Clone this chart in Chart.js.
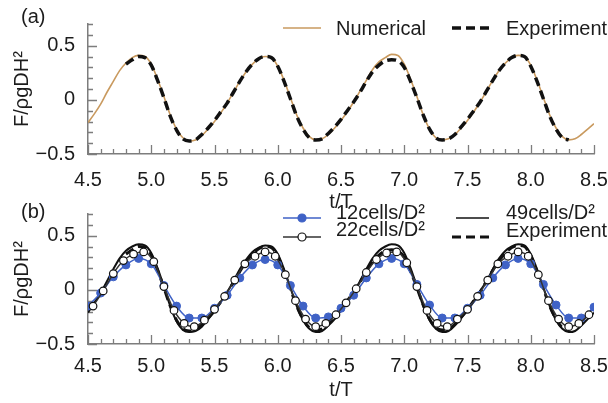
<!DOCTYPE html>
<html>
<head>
<meta charset="utf-8">
<script src="https://cdn.jsdelivr.net/npm/chart.js@4.4.0/dist/chart.umd.min.js"></script>
<style>
  html, body { margin: 0; padding: 0; background: #fff; }
  #wrap { position: relative; width: 608px; height: 403px; overflow: hidden; background: #fff; }
  canvas { position: absolute; left: 0; }
  #chart-a { top: 0; }
  #chart-b { top: 200px; }
</style>
</head>
<body>
<div id="wrap">
  <canvas id="chart-a" width="608" height="215"></canvas>
  <canvas id="chart-b" width="608" height="203"></canvas>
</div>
<script>
// Wave force on the cylinder, two panels sharing the same t/T axis

// time samples (t/T)
const tNum = [
  4.50, 4.55, 4.60, 4.65, 4.70, 4.75, 4.80, 4.85, 4.90, 4.95,
  5.00, 5.05, 5.10, 5.15, 5.20, 5.25, 5.30, 5.35, 5.40, 5.45,
  5.50, 5.55, 5.60, 5.65, 5.70, 5.75, 5.80, 5.85, 5.90, 5.95,
  6.00, 6.05, 6.10, 6.15, 6.20, 6.25, 6.30, 6.35, 6.40, 6.45,
  6.50, 6.55, 6.60, 6.65, 6.70, 6.75, 6.80, 6.85, 6.90, 6.95,
  7.00, 7.05, 7.10, 7.15, 7.20, 7.25, 7.30, 7.35, 7.40, 7.45,
  7.50, 7.55, 7.60, 7.65, 7.70, 7.75, 7.80, 7.85, 7.90, 7.95,
  8.00, 8.05, 8.10, 8.15, 8.20, 8.25, 8.30, 8.35, 8.40, 8.45,
  8.50,
];
const t12 = [
  4.5, 4.6, 4.7, 4.8, 4.9, 5.0, 5.1, 5.2, 5.3, 5.4,
  5.5, 5.6, 5.7, 5.8, 5.9, 6.0, 6.1, 6.2, 6.3, 6.4,
  6.5, 6.6, 6.7, 6.8, 6.9, 7.0, 7.1, 7.2, 7.3, 7.4,
  7.5, 7.6, 7.7, 7.8, 7.9, 8.0, 8.1, 8.2, 8.3, 8.4,
  8.5,
];
const t22 = [
  4.54, 4.62, 4.70, 4.78, 4.86, 4.94, 5.02, 5.10, 5.18, 5.26, 5.34, 5.42, 5.50,
  5.58, 5.66, 5.74, 5.82, 5.90, 5.98, 6.06, 6.14, 6.22, 6.30, 6.38, 6.46,
  6.54, 6.62, 6.70, 6.78, 6.86, 6.94, 7.02, 7.10, 7.18, 7.26, 7.34, 7.42, 7.50,
  7.58, 7.66, 7.74, 7.82, 7.90, 7.98, 8.06, 8.14, 8.22, 8.30, 8.38, 8.46,
];

// F/(rho g D H^2) values
const numerical = [
  -0.21, -0.13, -0.04, 0.07, 0.17, 0.27, 0.34, 0.39, 0.41, 0.40,
  0.33, 0.19, 0.03, -0.14, -0.27, -0.35, -0.38, -0.37, -0.33, -0.27,
  -0.20, -0.12, -0.03, 0.07, 0.17, 0.26, 0.33, 0.38, 0.40, 0.39,
  0.31, 0.18, 0.02, -0.14, -0.26, -0.34, -0.37, -0.36, -0.32, -0.26,
  -0.19, -0.11, -0.02, 0.08, 0.18, 0.28, 0.35, 0.39, 0.42, 0.41,
  0.33, 0.19, 0.03, -0.14, -0.27, -0.35, -0.37, -0.36, -0.32, -0.26,
  -0.19, -0.11, -0.02, 0.08, 0.18, 0.27, 0.34, 0.39, 0.41, 0.40,
  0.32, 0.18, 0.02, -0.14, -0.26, -0.34, -0.37, -0.36, -0.32, -0.27,
  -0.22,
];
const experiment = [
  null, null, null, null, null, null, 0.33, 0.37, 0.40, 0.39,
  0.32, 0.18, 0.02, -0.15, -0.28, -0.36, -0.38, -0.37, -0.32, -0.26,
  -0.19, -0.11, -0.03, 0.07, 0.17, 0.26, 0.33, 0.38, 0.40, 0.39,
  0.31, 0.17, 0.01, -0.15, -0.27, -0.35, -0.37, -0.36, -0.31, -0.25,
  -0.18, -0.10, -0.02, 0.07, 0.17, 0.26, 0.32, 0.36, 0.37, 0.36,
  0.30, 0.17, 0.02, -0.14, -0.27, -0.35, -0.37, -0.36, -0.32, -0.25,
  -0.18, -0.10, -0.02, 0.08, 0.18, 0.27, 0.34, 0.39, 0.41, 0.40,
  0.31, 0.17, 0.01, -0.15, -0.27, -0.35, -0.37, null, null, null,
  null,
];
const cells49 = [
  -0.21, -0.12, -0.03, 0.08, 0.19, 0.29, 0.36, 0.40, 0.42, 0.41,
  0.34, 0.20, 0.03, -0.15, -0.29, -0.37, -0.39, -0.38, -0.34, -0.27,
  -0.20, -0.11, -0.02, 0.08, 0.19, 0.28, 0.35, 0.39, 0.41, 0.40,
  0.33, 0.19, 0.02, -0.15, -0.28, -0.36, -0.39, -0.38, -0.33, -0.27,
  -0.19, -0.11, -0.02, 0.08, 0.19, 0.29, 0.36, 0.40, 0.42, 0.41,
  0.34, 0.20, 0.03, -0.15, -0.28, -0.36, -0.39, -0.38, -0.33, -0.26,
  -0.19, -0.10, -0.01, 0.08, 0.19, 0.29, 0.36, 0.40, 0.42, 0.41,
  0.33, 0.19, 0.02, -0.15, -0.28, -0.36, -0.39, -0.38, -0.33, -0.27,
  -0.21,
];
const cells12 = [
  -0.15, -0.03, 0.12, 0.23, 0.29, 0.24, 0.04, -0.15, -0.26, -0.26,
  -0.17, -0.05, 0.11, 0.23, 0.28, 0.23, 0.04, -0.15, -0.26, -0.25,
  -0.17, -0.05, 0.11, 0.24, 0.29, 0.24, 0.05, -0.14, -0.26, -0.26,
  -0.17, -0.05, 0.11, 0.23, 0.29, 0.24, 0.05, -0.14, -0.26, -0.26,
  -0.16,
];
const cells22 = [
  -0.15, -0.01, 0.15, 0.27, 0.33, 0.35, 0.26, 0.03, -0.19, -0.31, -0.34, -0.28, -0.18,
  -0.06, 0.09, 0.24, 0.31, 0.35, 0.31, 0.14, -0.10, -0.27, -0.34, -0.31, -0.23,
  -0.12, 0.01, 0.16, 0.28, 0.34, 0.35, 0.25, 0.03, -0.19, -0.31, -0.34, -0.27, -0.18,
  -0.06, 0.09, 0.24, 0.31, 0.35, 0.31, 0.14, -0.10, -0.27, -0.34, -0.31, -0.23,
];

// tick labels
const xTickValues = [4.5, 5.0, 5.5, 6.0, 6.5, 7.0, 7.5, 8.0, 8.5];
const yTickValues = [-0.5, 0, 0.5];

const FONT_FAMILY = "'Liberation Sans', Arial, Helvetica, sans-serif";
const TEXT_COLOR = "#1c1c1c";
const AXIS_COLOR = "#7d7d7d";
const ORANGE = "#c99a5f";
const BLUE = "#3f62c6";

function pairs(ts, vs) {
  return ts.map((t, i) => ({ x: t, y: vs[i] }));
}

// small tick marks drawn inside the plot, like the original figure
const innerTicks = {
  id: "innerTicks",
  beforeDatasetsDraw(chart) {
    const { ctx } = chart;
    const x = chart.scales.x;
    const y = chart.scales.y;
    ctx.save();
    ctx.strokeStyle = AXIS_COLOR;
    ctx.lineWidth = 1.3;
    ctx.beginPath();
    for (let i = 0; i <= 40; i++) {
      const px = Math.round(x.getPixelForValue(4.5 + i * 0.1)) + 0.5;
      const len = i % 5 === 0 ? 9 : 5;
      ctx.moveTo(px, y.bottom);
      ctx.lineTo(px, y.bottom - len);
    }
    for (let i = 0; i <= 12; i++) {
      const py = Math.round(y.getPixelForValue(-0.5 + i * 0.1)) + 0.5;
      const len = i % 5 === 0 ? 9 : 5;
      ctx.moveTo(x.left, py);
      ctx.lineTo(x.left + len, py);
    }
    ctx.stroke();
    ctx.restore();
  },
};

// panel letter and legend keys (kept out of chart options so Chart.js does not resolve them)
function drawKeys(ctx, panel) {
  ctx.save();
  ctx.font = "20px " + FONT_FAMILY;
  ctx.fillStyle = TEXT_COLOR;
  ctx.textBaseline = "middle";
  ctx.fillText(panel.letter, 21, panel.letterY);

  panel.legend.forEach((item) => {
    ctx.save();
    ctx.strokeStyle = item.color;
    ctx.lineWidth = item.width;
    ctx.setLineDash(item.dash || []);
    ctx.beginPath();
    ctx.moveTo(item.x0, item.y);
    ctx.lineTo(item.x1, item.y);
    ctx.stroke();
    ctx.setLineDash([]);
    if (item.dot) {
      ctx.beginPath();
      ctx.arc((item.x0 + item.x1) / 2, item.y, 4, 0, Math.PI * 2);
      ctx.fillStyle = item.dot;
      ctx.fill();
      ctx.lineWidth = 1.2;
      ctx.strokeStyle = item.edge;
      ctx.stroke();
    }
    ctx.restore();
    ctx.fillText(item.text, item.tx, item.ty);
  });
  ctx.restore();
}

function makePanel(canvasId, datasets, panel) {
  const ctx = document.getElementById(canvasId).getContext("2d");
  const keys = {
    id: "keys",
    afterDraw(chart) {
      drawKeys(chart.ctx, panel);
    },
  };
  return new Chart(ctx, {
    type: "line",
    data: { datasets },
    plugins: [innerTicks, keys],
    options: {
      responsive: false,
      animation: false,
      devicePixelRatio: 1,
      layout: { padding: { top: panel.top, right: 14, left: 0, bottom: 0 } },
      plugins: {
        legend: { display: false },
        tooltip: { enabled: false },
      },
      elements: {
        line: { cubicInterpolationMode: "monotone" },
      },
      scales: {
        x: {
          type: "linear",
          min: 4.5,
          max: 8.5,
          grid: { display: false, drawTicks: false },
          border: { display: true, color: AXIS_COLOR, width: 1.5 },
          afterBuildTicks: (scale) => {
            scale.ticks = xTickValues.map((v) => ({ value: v }));
          },
          afterFit: (scale) => {
            scale.height = panel.xHeight;
            scale.paddingLeft = 0;
            scale.paddingRight = 0;
          },
          ticks: {
            padding: panel.xPad,
            maxRotation: 0,
            color: TEXT_COLOR,
            font: { family: FONT_FAMILY, size: 20 },
            callback: (v) => Number(v).toFixed(1),
          },
          title: {
            display: true,
            text: "t/T",
            color: TEXT_COLOR,
            font: { family: FONT_FAMILY, size: 20 },
            padding: { top: 0, bottom: panel.titlePad },
          },
        },
        y: {
          min: -0.5,
          max: 0.7,
          grid: { display: false, drawTicks: false },
          border: { display: true, color: AXIS_COLOR, width: 1.5 },
          afterBuildTicks: (scale) => {
            scale.ticks = yTickValues.map((v) => ({ value: v }));
          },
          afterFit: (scale) => {
            scale.width = 88;
            scale.paddingTop = 0;
            scale.paddingBottom = 0;
          },
          ticks: {
            padding: 13,
            color: TEXT_COLOR,
            font: { family: FONT_FAMILY, size: 20 },
            callback: (v) => (v === 0 ? "0" : v < 0 ? "\u2212" + Math.abs(v).toFixed(1) : v.toFixed(1)),
          },
          title: {
            display: true,
            text: "F/\u03C1gDH\u00B2",
            color: TEXT_COLOR,
            font: { family: FONT_FAMILY, size: 20 },
            padding: { top: 10, bottom: 0 },
          },
        },
      },
    },
  });
}

document.addEventListener("DOMContentLoaded", () => {
  // (a) numerical vs experiment
  makePanel(
    "chart-a",
    [
      {
        label: "Experiment",
        data: pairs(tNum, experiment),
        borderColor: "#111",
        borderWidth: 3.5,
        borderDash: [9, 5],
        pointRadius: 0,
        spanGaps: false,
      },
      {
        label: "Numerical",
        data: pairs(tNum, numerical),
        borderColor: ORANGE,
        borderWidth: 1.6,
        pointRadius: 0,
      },
    ],
    {
      letter: "(a)",
      letterY: 17,
      top: 24,
      xHeight: 61,
      xPad: 14,
      titlePad: 1,
      legend: [
        { text: "Numerical", x0: 283, x1: 321, y: 28, tx: 336, ty: 29, color: ORANGE, width: 1.6 },
        { text: "Experiment", x0: 452, x1: 494, y: 28, tx: 506, ty: 29, color: "#111", width: 3.5, dash: [9, 5] },
      ],
    }
  );

  // (b) mesh resolution study
  makePanel(
    "chart-b",
    [
      {
        label: "22cells/D\u00B2",
        data: pairs(t22, cells22),
        borderColor: "#333",
        borderWidth: 1.5,
        pointRadius: 3.8,
        pointBackgroundColor: "#fff",
        pointBorderColor: "#111",
        pointBorderWidth: 1.2,
      },
      {
        label: "12cells/D\u00B2",
        data: pairs(t12, cells12),
        borderColor: BLUE,
        borderWidth: 1.5,
        pointRadius: 4,
        pointBackgroundColor: BLUE,
        pointBorderColor: BLUE,
        pointBorderWidth: 1,
      },
      {
        label: "Experiment",
        data: pairs(tNum, experiment),
        borderColor: "#111",
        borderWidth: 3,
        borderDash: [9, 5],
        pointRadius: 0,
      },
      {
        label: "49cells/D\u00B2",
        data: pairs(tNum, cells49),
        borderColor: "#111",
        borderWidth: 2,
        pointRadius: 0,
      },
    ],
    {
      letter: "(b)",
      letterY: 12,
      top: 14,
      xHeight: 59,
      xPad: 10,
      titlePad: 1,
      legend: [
        { text: "12cells/D\u00B2", x0: 283, x1: 321, y: 18, tx: 336, ty: 13, color: BLUE, width: 1.5, dot: BLUE, edge: BLUE },
        { text: "22cells/D\u00B2", x0: 283, x1: 321, y: 37, tx: 336, ty: 30, color: "#333", width: 1.5, dot: "#fff", edge: "#111" },
        { text: "49cells/D\u00B2", x0: 456, x1: 489, y: 18, tx: 506, ty: 13, color: "#111", width: 1.5 },
        { text: "Experiment", x0: 452, x1: 494, y: 37, tx: 506, ty: 31, color: "#111", width: 3, dash: [9, 5] },
      ],
    }
  );
});
</script>
</body>
</html>
